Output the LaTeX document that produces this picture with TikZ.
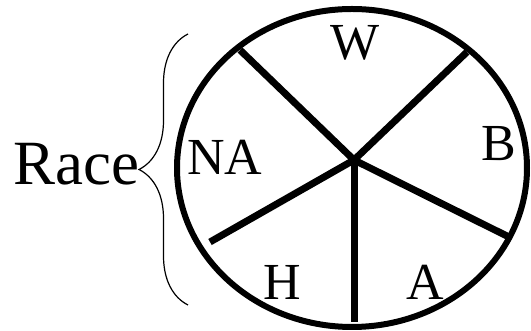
\documentclass[tikz,border=0pt]{standalone}
\usepackage{fontspec}
\setmainfont{Liberation Serif}
\usetikzlibrary{decorations.pathreplacing}

\begin{document}
\begin{tikzpicture}[x=1pt, y=1pt, every node/.style={font=\fontsize{52}{60}\selectfont, inner sep=0pt}, rim/.style={line width=6pt}, spoke/.style={line width=7pt}, bracket/.style={decorate, decoration={brace, amplitude=49pt, aspect=0.5}, line width=1.2pt}]
    \useasboundingbox (0,0) rectangle (531,331);
    \draw[rim] (352,163) ellipse [x radius=175, y radius=159];
    \coordinate (hub) at (354,171);
    \coordinate (ul) at (240,281);
    \coordinate (ur) at (467,279);
    \coordinate (rt) at (511,93);
    \coordinate (ll) at (210,89);
    \coordinate (bt) at (354,9);
    \draw[spoke] (ul) -- (hub) -- (ur);
    \draw[spoke] (ll) -- (hub) -- (rt);
    \draw[spoke] (hub) -- (bt);
    \node (w) at (355,288) {W};
    \node (na) at (225,174) {NA};
    \node (b) at (499,187) {B};
    \node (h) at (282,49) {H};
    \node (a) at (425,49) {A};
    \coordinate (btop) at (188,297);
    \coordinate (bbot) at (188,26);
    \draw[bracket] (bbot) -- (btop);
    \node[font=\fontsize{63}{70}\selectfont] (race) at (76,167) {Race};
  \end{tikzpicture}
\end{document}
